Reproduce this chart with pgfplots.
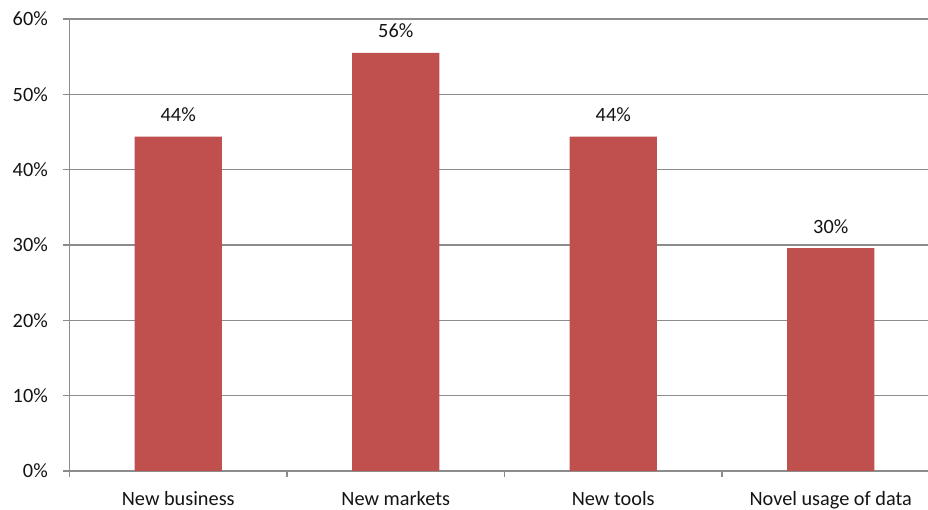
\documentclass[border=0pt]{standalone}
\usepackage{pgfplots}
\pgfplotsset{compat=1.18}
\usepackage{fontspec}
\setmainfont{Carlito}
\definecolor{barred}{RGB}{192,80,77}
\definecolor{gridgray}{RGB}{140,140,140}
\definecolor{txt}{RGB}{20,20,20}
\begin{document}
\begin{tikzpicture}
\begin{axis}[
  name=ax, at={(0,0)}, anchor=south west,
  width=870pt, height=452pt, scale only axis,
  xmin=-0.5, xmax=3.5, ymin=0, ymax=60,
  axis lines*=left,
  axis line style={draw=gridgray, line width=1.2pt},
  ymajorgrids, grid style={draw=gridgray, line width=1.2pt},
  ytick={0,10,20,30,40,50,60},
  yticklabels={0\%,10\%,20\%,30\%,40\%,50\%,60\%},
  xtick={0,1,2,3},
  xticklabels={New business,New markets,New tools,Novel usage of data},
  minor xtick={-0.5,0.5,1.5,2.5},
  tick align=outside,
  major tick length=6pt, minor tick length=6pt,
  tick style={draw=gridgray, line width=1.2pt},
  x tick style={draw=none},
  minor x tick style={draw=gridgray, line width=1.2pt},
  ticklabel style={font=\fontsize{20.3}{24}\selectfont, text=txt, inner sep=0pt},
  yticklabel style={anchor=east, xshift=-15.5pt},
  xticklabel style={anchor=base, yshift=-29pt},
  ybar, bar width=87.4pt,
  nodes near coords, point meta=explicit symbolic,
  every node near coord/.append style={anchor=base, yshift=15pt, inner sep=0pt, font=\fontsize{20.3}{24}\selectfont, text=txt},
]
\addplot[fill=barred, draw=none] coordinates {
  (0,44.4) [44\%]
  (1,55.5) [56\%]
  (2,44.4) [44\%]
  (3,29.6) [30\%]
};
\end{axis}
\pgfresetboundingbox
\path[use as bounding box] ([xshift=-69.5pt,yshift=-39pt]ax.south west) rectangle ([xshift=858.5pt,yshift=471pt]ax.south west);
\end{tikzpicture}
\end{document}
